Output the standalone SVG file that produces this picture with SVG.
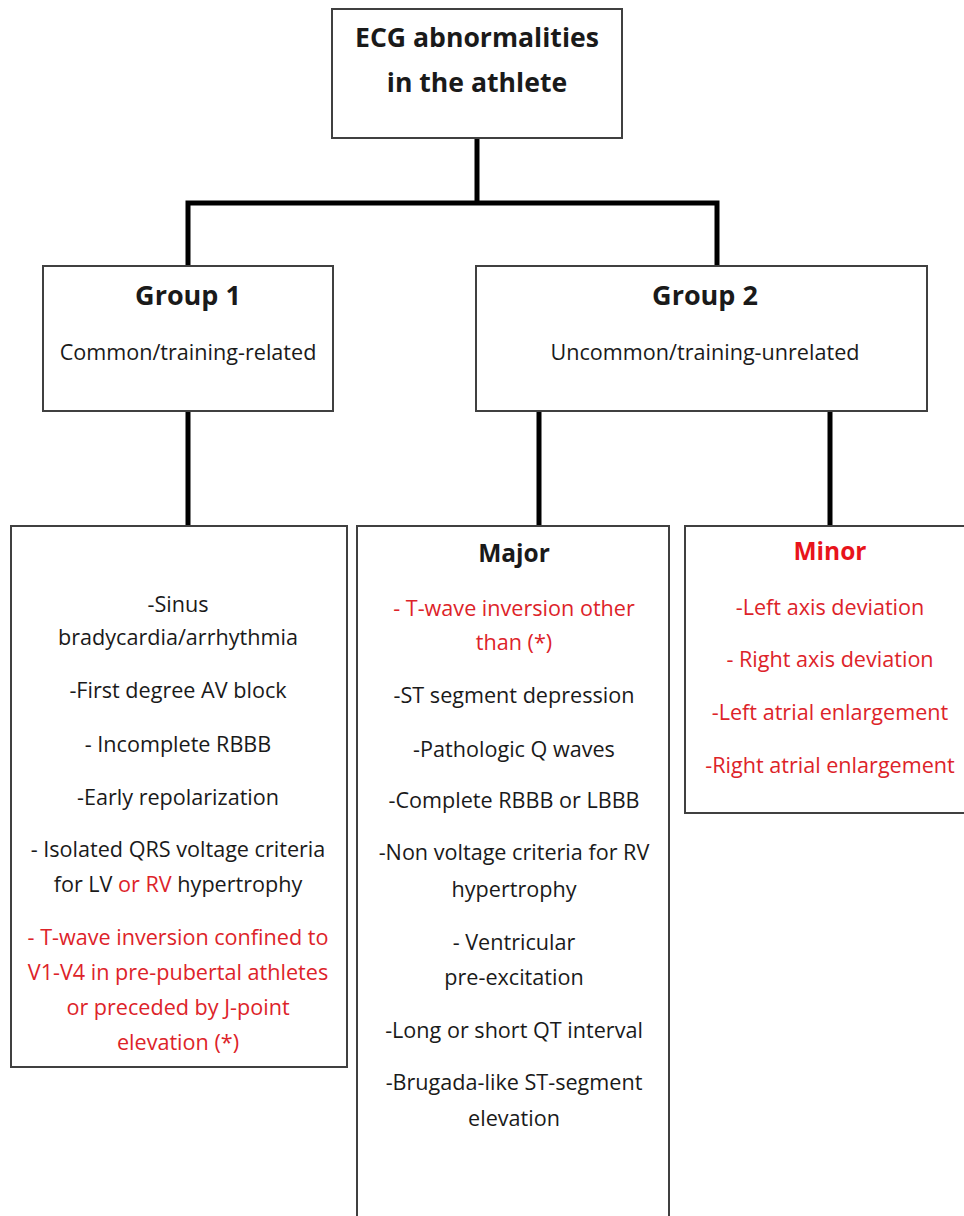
<svg xmlns="http://www.w3.org/2000/svg" width="964" height="1216" viewBox="0 0 964 1216">
<style>
.box{fill:#fff;stroke:#404040;stroke-width:2}
.conn{stroke:#000;stroke-width:5;fill:none;stroke-linecap:square}
text{font-family:"Open Sans","Liberation Sans",sans-serif;text-anchor:middle;fill:#1a1a1a}
.h{font-weight:bold;font-size:27px}
.t{font-weight:bold;font-size:26.6px}
.b{font-size:21.6px}
.m{font-weight:bold;font-size:24.5px}
.r{fill:#dd2329}
</style>
<rect width="964" height="1216" fill="#fff"/>
<g id="connectors">
<path class="conn" d="M477 140 V203 M188 203 H717 M188 203 V264 M717 203 V264"/>
<path class="conn" d="M188 414 V524 M539 414 V524 M830 414 V524"/>
</g>
<g id="root">
<rect class="box" x="332" y="9" width="290" height="129"/>
<text class="t" x="477" y="47">ECG abnormalities</text>
<text class="t" x="477" y="92">in the athlete</text>
</g>
<g id="group1">
<rect class="box" x="43" y="266" width="290" height="145"/>
<text class="h" x="188" y="305">Group 1</text>
<text class="b" x="188" y="360">Common/training-related</text>
</g>
<g id="group2">
<rect class="box" x="476" y="266" width="451" height="145"/>
<text class="h" x="705" y="305">Group 2</text>
<text class="b" x="705" y="360">Uncommon/training-unrelated</text>
</g>
<g id="common">
<rect class="box" x="11" y="526" width="336" height="541"/>
<text class="b" x="178" y="612">-Sinus</text>
<text class="b" x="178" y="645">bradycardia/arrhythmia</text>
<text class="b" x="178" y="698">-First degree AV block</text>
<text class="b" x="178" y="752">- Incomplete RBBB</text>
<text class="b" x="178" y="805">-Early repolarization</text>
<text class="b" x="178" y="857">- Isolated QRS voltage criteria</text>
<text class="b" x="178" y="892">for LV <tspan class="r">or RV</tspan> hypertrophy</text>
<text class="b r" x="178" y="945">- T-wave inversion confined to</text>
<text class="b r" x="178" y="980">V1-V4 in pre-pubertal athletes</text>
<text class="b r" x="178" y="1015">or preceded by J-point</text>
<text class="b r" x="178" y="1050">elevation (*)</text>
</g>
<g id="major">
<rect class="box" x="357" y="526" width="312" height="710"/>
<text class="m" x="514" y="562">Major</text>
<text class="b r" x="514" y="616">- T-wave inversion other</text>
<text class="b r" x="514" y="650">than (*)</text>
<text class="b" x="514" y="703">-ST segment depression</text>
<text class="b" x="514" y="757">-Pathologic Q waves</text>
<text class="b" x="514" y="808">-Complete RBBB or LBBB</text>
<text class="b" x="514" y="860">-Non voltage criteria for RV</text>
<text class="b" x="514" y="897">hypertrophy</text>
<text class="b" x="514" y="950">- Ventricular</text>
<text class="b" x="514" y="985">pre-excitation</text>
<text class="b" x="514" y="1038">-Long or short QT interval</text>
<text class="b" x="514" y="1090">-Brugada-like ST-segment</text>
<text class="b" x="514" y="1126">elevation</text>
</g>
<g id="minor">
<rect class="box" x="685" y="526" width="290" height="287"/>
<text class="m r" x="830" y="560" style="fill:#e8141b">Minor</text>
<text class="b r" x="830" y="615">-Left axis deviation</text>
<text class="b r" x="830" y="667">- Right axis deviation</text>
<text class="b r" x="830" y="720">-Left atrial enlargement</text>
<text class="b r" x="830" y="773">-Right atrial enlargement</text>
</g>
</svg>
